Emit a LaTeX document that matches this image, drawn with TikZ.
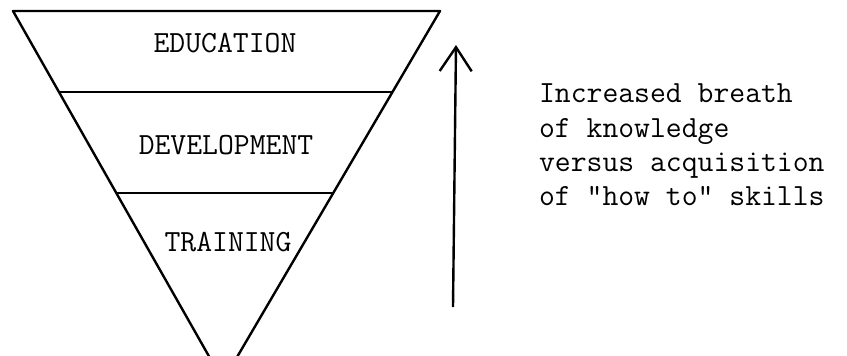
\documentclass[tikz,border=0pt]{standalone}
\usepackage{tikz}
\usetikzlibrary{calc,arrows.meta}

\begin{document}
\begin{tikzpicture}[x=0.5pt,y=-0.5pt]
  \tikzstyle{lbl}=[font=\ttfamily\fontsize{15.4}{17.2}\selectfont]
  \tikzstyle{edge}=[line width=1.2pt,line join=round]
  \useasboundingbox (0,0) rectangle (847,355);
  % Sommets (triangle inverse)
  \coordinate (TL) at (13,11);     % top-left
  \coordinate (TR) at (440,11);    % top-right
  \coordinate (AP) at (223,381);   % apex
  % Bord du triangle
  \draw[edge] (TL)--(TR)--(AP)--cycle;
  % Separations
  \draw[edge] ($(TL)!0.219!(AP)$) coordinate (L1) -- ($(TR)!0.219!(AP)$) coordinate (R1);
  \draw[edge] ($(TL)!0.492!(AP)$) coordinate (L2) -- ($(TR)!0.492!(AP)$) coordinate (R2);
  % Niveaux
  \node[lbl] (edu) at (225,43) {EDUCATION};
  \node[lbl] (dev) at (226,145) {DEVELOPMENT};
  \node[lbl] (trn) at (228,242) {TRAINING};
  % Fleche
  \coordinate (AB) at (453,307);   % bottom
  \coordinate (AT) at (456,45);    % top
  \draw[edge,-{Straight Barb[length=12pt,width=16pt]}] (AB)--(AT);
  % Legende
  \node[lbl,anchor=west,align=left] (note) at (532,145)
    {Increased breath\\of knowledge\\versus acquisition\\of "how to" skills};
\end{tikzpicture}
\end{document}
